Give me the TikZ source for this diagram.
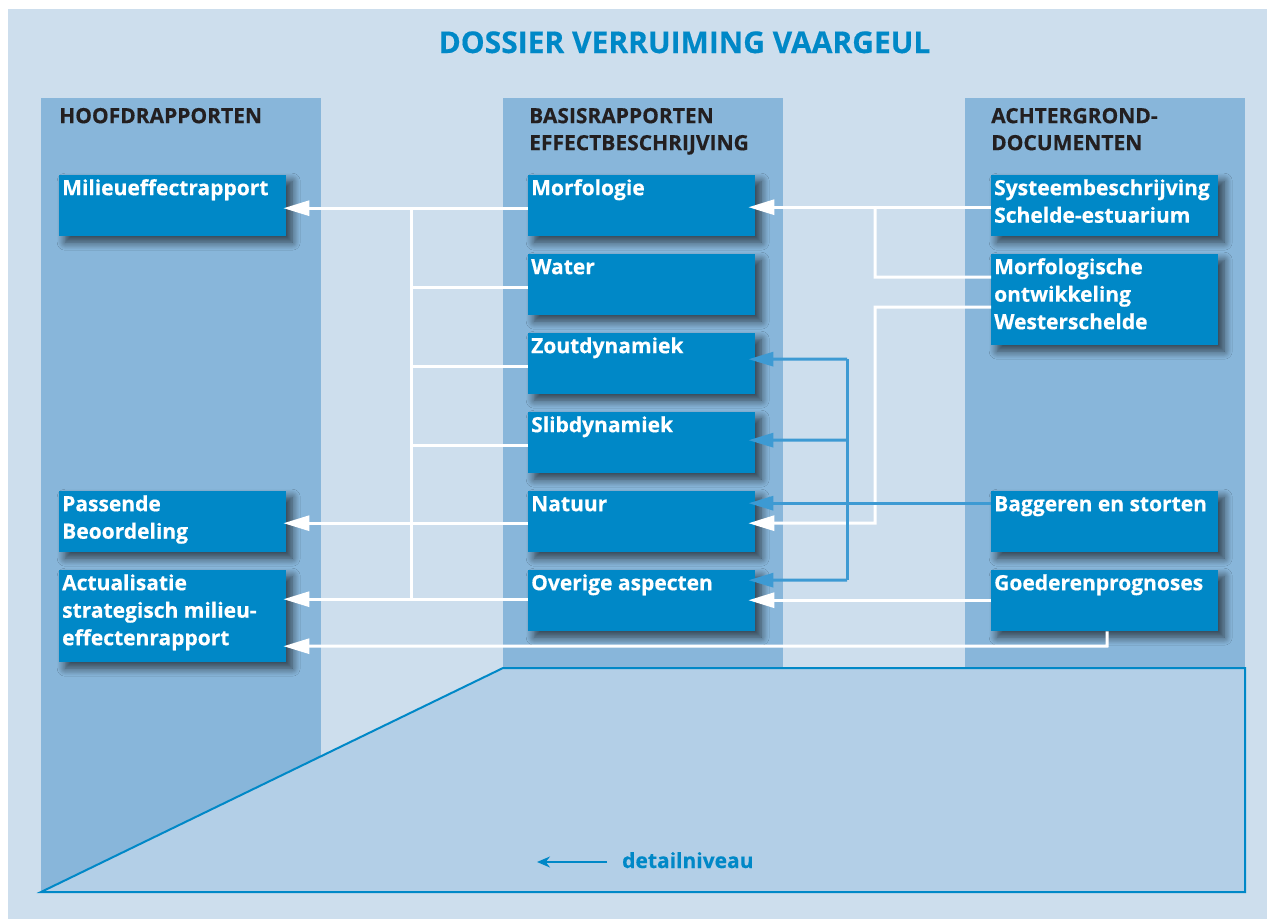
\documentclass[tikz,border=0pt]{standalone}
\usepackage{fontspec}
\setmainfont[BoldFeatures={FakeBold=0.4}]{Open Sans}
\usetikzlibrary{arrows.meta,shadows.blur,calc}
\definecolor{bgc}{HTML}{CDDEED}
\definecolor{colc}{HTML}{88B6DA}
\definecolor{trapc}{HTML}{B3CFE7}
\definecolor{boxc}{HTML}{0088C7}
\definecolor{arrc}{HTML}{3D9AD3}
\definecolor{hdrc}{HTML}{231F20}
\tikzset{
  boxnode/.style={fill=boxc, minimum width=227pt, minimum height=61pt, inner sep=0pt, anchor=north west,
    blur shadow={shadow xshift=6pt, shadow yshift=-6pt, shadow blur radius=8pt, shadow opacity=65, shadow blur steps=10}},
  boxtext/.style={anchor=north west, inner sep=0pt, align=left, text=white, font=\bfseries\fontsize{21}{27.5}\selectfont},
  hdrtext/.style={anchor=north west, inner sep=0pt, align=left, text=hdrc, font=\bfseries\fontsize{21}{27}\selectfont},
  wline/.style={draw=white, line width=3pt},
  warr/.style={wline, -{Triangle[length=26pt,width=15pt]}, shorten >=-3pt},
  barr/.style={draw=arrc, line width=3pt, -{Triangle[length=25pt,width=14pt]}, shorten >=-7pt},
  bline/.style={draw=arrc, line width=3pt},
}
\newcommand{\sr}{\rule{0pt}{18pt}}
\begin{document}
\begin{tikzpicture}[x=1pt,y=-1pt]
\useasboundingbox (0,0) rectangle (1267,919);
\fill[white] (0,0) rectangle (1267,919);
\fill[bgc] (8,9) rectangle (1267,919);
% columns
\fill[colc] (41,98) rectangle (321,892);
\fill[colc] (503,98) rectangle (783,668);
\fill[colc] (965,98) rectangle (1245,668);
% trapezoid
\filldraw[fill=trapc, draw=boxc, line width=2pt, line join=miter] (41,892) -- (503,668) -- (1245,668) -- (1245,892) -- cycle;
% title
\node[anchor=base, inner sep=0pt, text=boxc, font=\bfseries\fontsize{30}{30}\selectfont] (title) at (684.5,53) {DOSSIER VERRUIMING VAARGEUL};
% headers
\node[hdrtext] (h1) at (59,105) {\sr HOOFDRAPPORTEN};
\node[hdrtext] (h2) at (529,105) {\sr BASISRAPPORTEN\\EFFECTBESCHRIJVING};
\node[hdrtext] (h3) at (991,105) {\sr ACHTERGROND-\\DOCUMENTEN};
% boxes
\node[boxnode] (mer) at (59,175) {};
\node[boxnode] (pb) at (59,491) {};
\node[boxnode, minimum height=92pt] (act) at (59,570) {};
\node[boxnode] (morf) at (528,175) {};
\node[boxnode] (water) at (528,254) {};
\node[boxnode] (zout) at (528,333) {};
\node[boxnode] (slib) at (528,412) {};
\node[boxnode] (nat) at (528,491) {};
\node[boxnode] (ov) at (528,570) {};
\node[boxnode] (sys) at (991,175) {};
\node[boxnode, minimum height=91pt] (mo) at (991,254) {};
\node[boxnode] (bag) at (991,491) {};
\node[boxnode] (goe) at (991,570) {};
% box texts
\node[boxtext] (tmer) at ([xshift=3pt,yshift=-2pt]mer.north west) {\sr Milieueffectrapport};
\node[boxtext] (tpb) at ([xshift=3pt,yshift=-2pt]pb.north west) {\sr Passende\\Beoordeling};
\node[boxtext] (tact) at ([xshift=3pt,yshift=-2pt]act.north west) {\sr Actualisatie\\strategisch milieu-\\effectenrapport};
\node[boxtext] (tmorf) at ([xshift=3pt,yshift=-2pt]morf.north west) {\sr Morfologie};
\node[boxtext] (twater) at ([xshift=3pt,yshift=-2pt]water.north west) {\sr Water};
\node[boxtext] (tzout) at ([xshift=3pt,yshift=-2pt]zout.north west) {\sr Zoutdynamiek};
\node[boxtext] (tslib) at ([xshift=3pt,yshift=-2pt]slib.north west) {\sr Slibdynamiek};
\node[boxtext] (tnat) at ([xshift=3pt,yshift=-2pt]nat.north west) {\sr Natuur};
\node[boxtext] (tov) at ([xshift=3pt,yshift=-2pt]ov.north west) {\sr Overige aspecten};
\node[boxtext] (tsys) at ([xshift=3pt,yshift=-2pt]sys.north west) {\sr Systeembeschrijving\\Schelde-estuarium};
\node[boxtext] (tmo) at ([xshift=3pt,yshift=-2pt]mo.north west) {\sr Morfologische\\ontwikkeling\\Westerschelde};
\node[boxtext] (tbag) at ([xshift=3pt,yshift=-2pt]bag.north west) {\sr Baggeren en storten};
\node[boxtext] (tgoe) at ([xshift=3pt,yshift=-2pt]goe.north west) {\sr Goederenprognoses};
% junction coordinates
\coordinate (ltop) at (411,208);
\coordinate (lbot) at (411,599);
\coordinate (rtop) at (875,207);
\coordinate (rj1) at (875,277);
\coordinate (rj2) at (875,307);
\coordinate (rj3) at (875,523);
\coordinate (btop) at (847,359);
\coordinate (bmid) at (847,440);
\coordinate (bbot) at (847,580);
\coordinate (gj1) at (1107,646);
% left white connectors
\draw[wline] (ltop) -- (lbot);
\draw[warr] ([yshift=-2.5pt]morf.west) -- ([yshift=-2.5pt]mer.east);
\draw[wline] ([yshift=-2.5pt]water.west) -| (ltop);
\draw[wline] ([yshift=-2.5pt]zout.west) -| (ltop);
\draw[wline] ([yshift=-2.5pt]slib.west) -| (ltop);
\draw[warr] ([yshift=-1.5pt]nat.west) -- ([yshift=-1.5pt]pb.east);
\draw[warr] ([yshift=1.5pt]ov.west) -- ([yshift=17pt]act.east);
% right white connectors
\draw[warr, shorten >=-7pt] ([yshift=-1.5pt]sys.west) -- ([yshift=-1.5pt]morf.east);
\draw[wline, line join=miter] ([yshift=22.5pt]mo.west) -- (rj1) -- (rtop);
\draw[warr, shorten >=-7pt, line join=miter] ([yshift=-7.5pt]mo.west) -- (rj2) -- (rj3) -- ([yshift=-1.5pt]nat.east);
\draw[warr, shorten >=-7pt] ([yshift=0.5pt]goe.west) -- ([yshift=0.5pt]ov.east);
\draw[warr, line join=miter] ([xshift=2.5pt]goe.south) -- (gj1) -- ([yshift=-30pt]act.east);
% blue connectors
\draw[bline] (btop) -- (bbot);
\draw[barr] (btop) -- ([yshift=4.5pt]zout.east);
\draw[barr] (bmid) -- ([yshift=2.5pt]slib.east);
\draw[barr] (bbot) -- ([yshift=20.5pt]ov.east);
\draw[barr] ([yshift=18.5pt]bag.west) -- ([yshift=18.5pt]nat.east);
% detail level
\node[anchor=base west, inner sep=0pt, text=boxc, font=\bfseries\fontsize{21}{21}\selectfont] (dn) at (622,868) {detailniveau};
\coordinate (dtip) at (537,862);
\coordinate (dtail) at (607,862);
\draw[draw=boxc, line width=1.8pt, -{Stealth[length=13pt,width=11pt]}] (dtail) -- (dtip);
\end{tikzpicture}
\end{document}
